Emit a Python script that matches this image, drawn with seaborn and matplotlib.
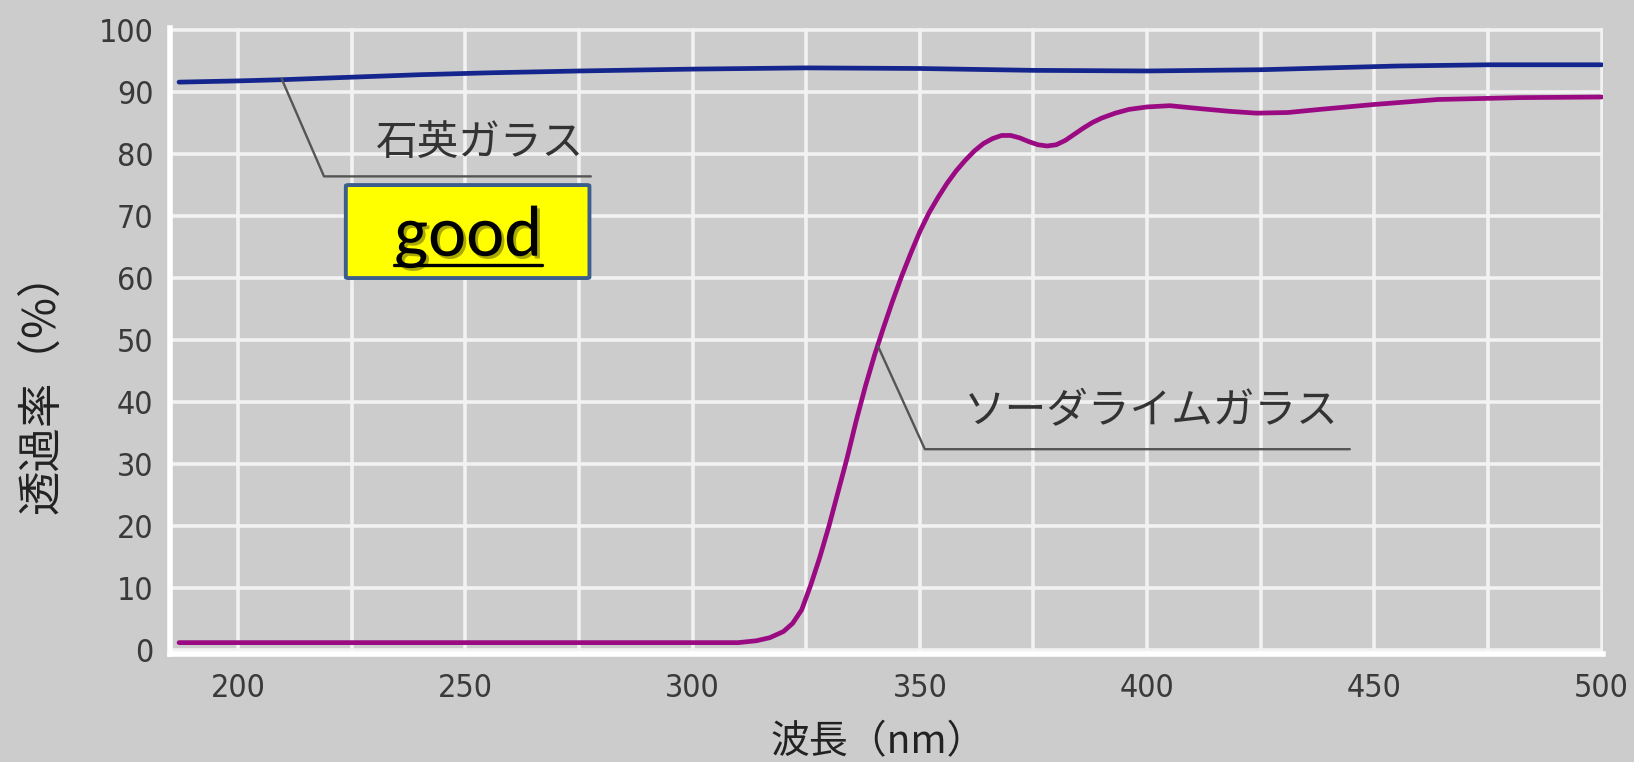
import matplotlib
matplotlib.use("Agg")
import matplotlib.pyplot as plt
import matplotlib.patheffects as pe
from matplotlib.patches import FancyBboxPatch
from matplotlib.lines import Line2D
import seaborn as sns
import numpy as np
import pandas as pd

# values
wl_quartz = [187, 200, 210, 225, 240, 255, 275, 300, 325, 350, 375, 400, 425, 440, 455, 475, 500]
t_quartz = [91.6, 91.8, 92.0, 92.4, 92.8, 93.1, 93.4, 93.7, 93.9, 93.8, 93.5, 93.4, 93.6, 93.9, 94.2, 94.4, 94.4]

wl_soda = [187, 250, 310, 314, 317, 320, 322, 324, 326, 328, 330, 332, 334, 336, 338, 340,
           342, 344, 346, 348, 350, 352, 354, 356, 358, 360, 362, 364, 366, 368, 370, 372,
           374, 376, 378, 380, 382, 384, 386, 388, 390, 393, 396, 400, 405, 412, 418, 424,
           431, 438, 450, 464, 482, 500]
t_soda = [1.2, 1.2, 1.2, 1.5, 2.0, 3.0, 4.3, 6.5, 10.5, 15, 20, 25.5, 31, 37, 42.5, 47.5,
          52, 56.3, 60.3, 64, 67.5, 70.5, 73, 75.3, 77.3, 79, 80.5, 81.7, 82.5, 83, 83, 82.6,
          82, 81.5, 81.3, 81.5, 82.2, 83.2, 84.2, 85.1, 85.8, 86.6, 87.2, 87.6, 87.8, 87.3, 86.9, 86.6,
          86.7, 87.2, 88.0, 88.8, 89.1, 89.2]

names = ["石英ガラス", "ソーダライムガラス"]
colors = ["#14258e", "#9a0a82"]
x_ticks = [200, 250, 300, 350, 400, 450, 500]
y_ticks = [0, 10, 20, 30, 40, 50, 60, 70, 80, 90, 100]

df = pd.concat([
    pd.DataFrame({"wl": wl_quartz, "t": t_quartz, "glass": names[0]}),
    pd.DataFrame({"wl": wl_soda, "t": t_soda, "glass": names[1]}),
])

BG = "#cccccc"
sns.set_theme(style="darkgrid", rc={"axes.facecolor": BG, "figure.facecolor": BG,
                                    "grid.color": "#f2f2f2", "grid.linewidth": 2.6})
plt.rcParams["font.family"] = ["Noto Sans CJK JP", "DejaVu Sans"]

fig = plt.figure(figsize=(16.34, 7.62), dpi=100)
ax = fig.add_axes([0.104, 0.142, 0.877, 0.821])

sns.lineplot(data=df, x="wl", y="t", hue="glass", palette=dict(zip(names, colors)),
             linewidth=3.4, legend=False, ax=ax, zorder=3)

ax.set_xlim(185, 500.3)
ax.set_ylim(-0.6, 100.3)
ax.set_xticks(x_ticks)
ax.set_xticks(np.arange(225, 500, 50), minor=True)
ax.set_yticks(y_ticks)
ax.grid(True, which="both", color="#f2f2f2", linewidth=2.6)
ax.tick_params(which="both", length=0)
ax.tick_params(axis="y", pad=12)
ax.tick_params(axis="x", pad=14)
for lab in ax.get_xticklabels() + ax.get_yticklabels():
    lab.set_family("DejaVu Sans")
    lab.set_stretch("condensed")
    lab.set_fontsize(23)
    lab.set_color("#3a3a3a")

for side in ["top", "right"]:
    ax.spines[side].set_visible(False)
for side in ["left", "bottom"]:
    ax.spines[side].set_color("white")
    ax.spines[side].set_linewidth(4)

ax.set_xlabel("波長（nm）", fontsize=28, color="#222222")
ax.set_ylabel("透過率（%）", fontsize=32, color="#222222")
ax.xaxis.set_label_coords(0.494, -0.11)
ax.yaxis.set_label_coords(-0.074, 0.434)

# leader lines and labels
lead = "#555555"
ax.plot([209.6, 218.9, 277.6], [92.1, 76.4, 76.4], color=lead, lw=1.7, zorder=4)
ax.text(253.2, 81.7, names[0], fontsize=30, color="#333333", ha="center", va="center", zorder=5)
ax.plot([340.8, 351.1, 444.6], [49.0, 32.4, 32.4], color=lead, lw=1.7, zorder=4)
ax.text(400.9, 38.5, names[1], fontsize=30, color="#333333", ha="center", va="center", zorder=5)

# yellow "good" box
ax.add_patch(FancyBboxPatch((223.7, 60.0), 53.6, 15.0, boxstyle="round,pad=0,rounding_size=0.6",
                            mutation_aspect=0.25, facecolor="#ffff00", edgecolor="#3b5e8c",
                            linewidth=2.8, zorder=6))
shadow = [pe.withSimplePatchShadow(offset=(2, -2), shadow_rgbFace="#555500", alpha=0.5)]
good = ax.text(250.6, 63.6, "good", fontsize=52, family=["Carlito", "Noto Sans", "DejaVu Sans"],
               color="black", ha="center", va="baseline", zorder=7, path_effects=shadow)
fig.canvas.draw()
bb = good.get_window_extent()
_, base_y = ax.transData.transform((250.6, 63.6))
W, H = fig.bbox.width, fig.bbox.height
uy = (base_y - 9) / H
fig.add_artist(Line2D([bb.x0 / W, bb.x1 / W], [uy, uy], color="black", lw=2.4, zorder=8,
                      path_effects=shadow))

fig.savefig("out.png", dpi=100, facecolor=BG)
